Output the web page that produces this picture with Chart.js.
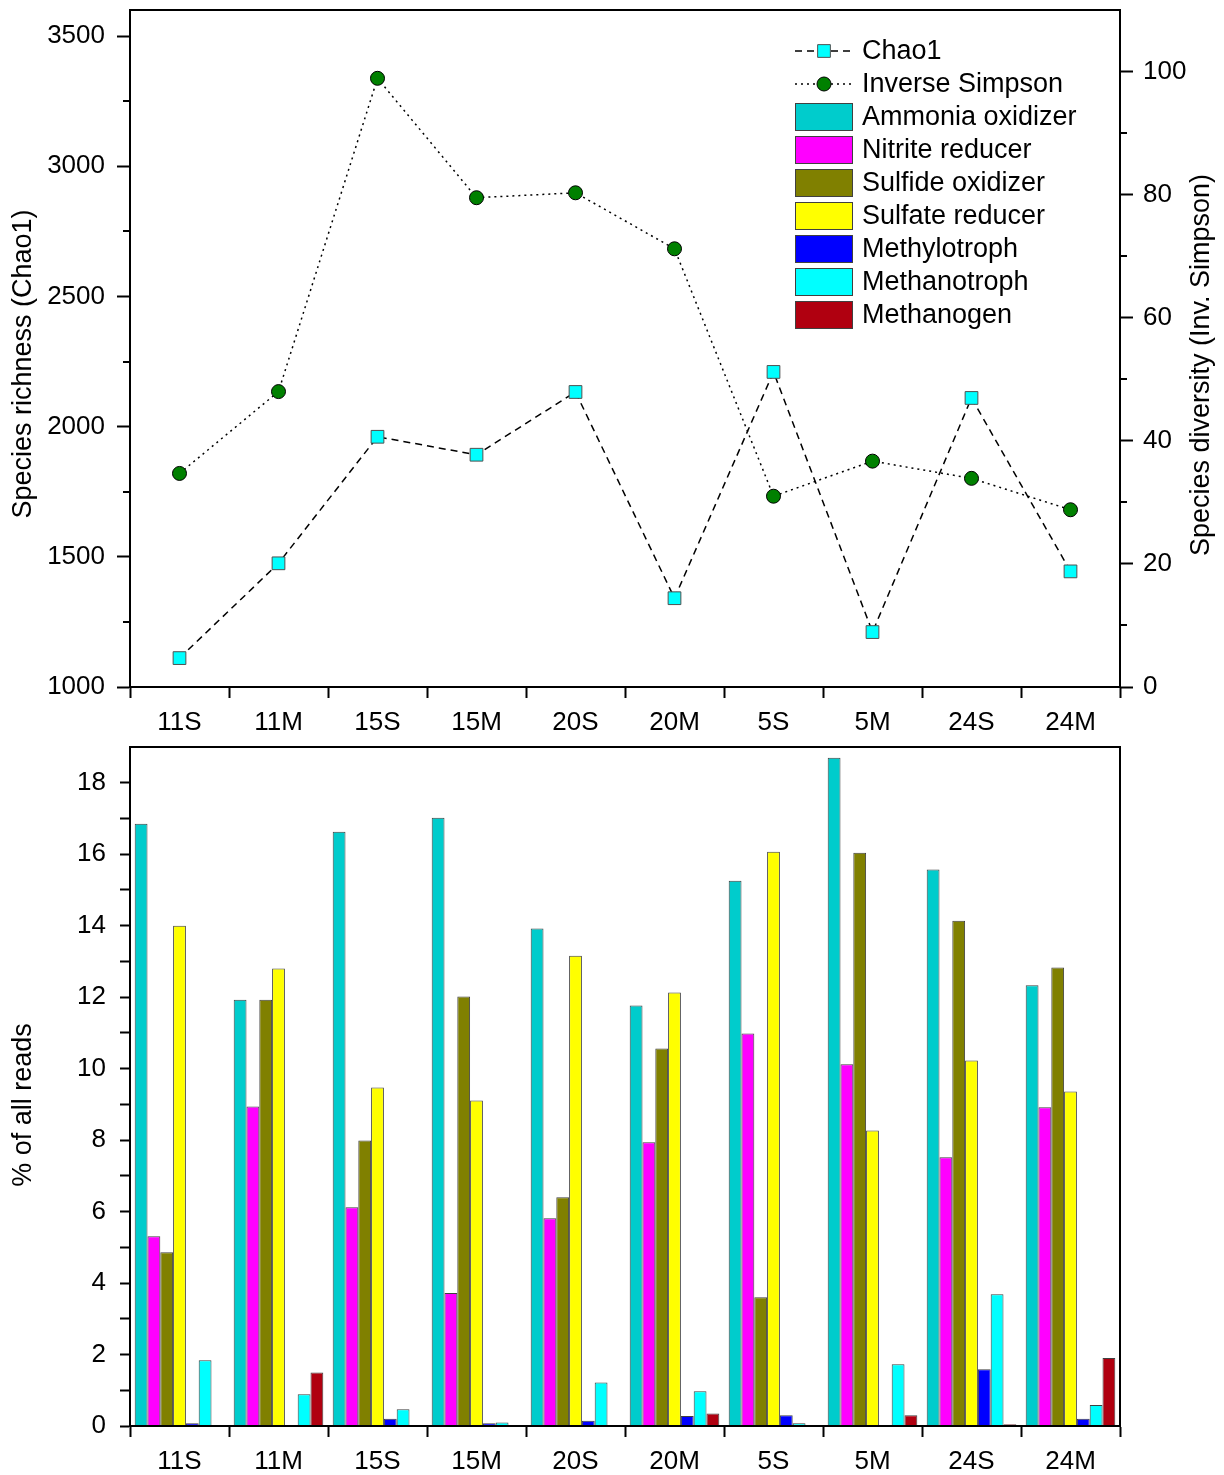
<!DOCTYPE html>
<html>
<head>
<meta charset="utf-8">
<script src="https://cdn.jsdelivr.net/npm/chart.js@4.4.1/dist/chart.umd.min.js"></script>
<style>
  body { margin: 0; background: #fff; }
  canvas { position: absolute; left: 0; }
</style>
</head>
<body>
<canvas id="topChart" width="1224" height="740" style="top:0"></canvas>
<canvas id="barChart" width="1224" height="735" style="top:740px"></canvas>
<script>
// sites along both x axes
var sites = ['11S', '11M', '15S', '15M', '20S', '20M', '5S', '5M', '24S', '24M'];

// top panel: richness (left axis) and diversity (right axis)
var chao1 = [1111, 1475, 1961, 1892, 2133, 1341, 2210, 1211, 2110, 1444];
var invSimpson = [34.7, 48.0, 98.9, 79.5, 80.3, 71.2, 31.0, 36.7, 33.9, 28.8];
var chaoTicks = [1000, 1500, 2000, 2500, 3000, 3500];
var simpsonTicks = [0, 20, 40, 60, 80, 100];

// bottom panel: % of all reads per functional group
var groupNames = ['Ammonia oxidizer', 'Nitrite reducer', 'Sulfide oxidizer', 'Sulfate reducer',
                  'Methylotroph', 'Methanotroph', 'Methanogen'];
var ammoniaOx = [16.85, 11.93, 16.63, 17.02, 13.92, 11.77, 15.26, 18.70, 15.57, 12.33];
var nitriteRed = [5.31, 8.94, 6.12, 3.72, 5.81, 7.94, 10.98, 10.12, 7.52, 8.92];
var sulfideOx = [4.86, 11.93, 7.99, 12.02, 6.40, 10.56, 3.60, 16.04, 14.14, 12.83];
var sulfateRed = [14.00, 12.80, 9.47, 9.11, 13.16, 12.13, 16.07, 8.27, 10.23, 9.36];
var methylotroph = [0.08, 0.03, 0.20, 0.08, 0.15, 0.28, 0.30, 0, 1.59, 0.20];
var methanotroph = [1.84, 0.89, 0.47, 0.10, 1.22, 0.97, 0.08, 1.73, 3.69, 0.59];
var methanogen = [0, 1.50, 0, 0.03, 0, 0.35, 0, 0.30, 0.05, 1.90];
var groupValues = [ammoniaOx, nitriteRed, sulfideOx, sulfateRed, methylotroph, methanotroph, methanogen];
var readTicks = [0, 1, 2, 3, 4, 5, 6, 7, 8, 9, 10, 11, 12, 13, 14, 15, 16, 17, 18];

var groupColors = ['#00CCCC', '#FF00FF', '#808000', '#FFFF00', '#0000FF', '#00FFFF', '#B00010'];
var FONT = '"Liberation Sans", Arial, sans-serif';

Chart.defaults.font.family = FONT;
Chart.defaults.color = '#000';

// box round the plot area
var framePlugin = {
	id: 'frame',
	afterDraw: function(chart) {
		var a = chart.chartArea, ctx = chart.ctx;
		ctx.save();
		ctx.strokeStyle = '#000';
		ctx.lineWidth = 2;
		ctx.strokeRect(a.left, a.top, a.right - a.left, a.bottom - a.top);
		ctx.restore();
	}
};

function drawTitle(ctx, text, x, y) {
	ctx.save();
	ctx.translate(x, y);
	ctx.rotate(-Math.PI / 2);
	ctx.font = '27px ' + FONT;
	ctx.fillStyle = '#000';
	ctx.textAlign = 'center';
	ctx.textBaseline = 'middle';
	ctx.fillText(text, 0, 0);
	ctx.restore();
}

function fixedTicks(list) {
	return function(s) { s.ticks = list.map(function(v) { return { value: v }; }); };
}
function noPad(w, h) {
	return function(s) {
		if (w) s.width = w;
		if (h) s.height = h;
		s.paddingTop = 0; s.paddingBottom = 0; s.paddingLeft = 0; s.paddingRight = 0;
	};
}

var tickStyle = { display: true, drawOnChartArea: false, drawTicks: true, tickLength: 13, tickWidth: 2, tickColor: '#000' };

// minor ticks + titles + legend for the top panel
var topExtras = {
	id: 'topExtras',
	afterDraw: function(chart) {
		var ctx = chart.ctx, a = chart.chartArea;
		var yL = chart.scales.y, yR = chart.scales.y1;
		ctx.save();
		ctx.strokeStyle = '#000';
		ctx.lineWidth = 2;
		ctx.beginPath();
		for (var v = 1250; v < yL.max; v += 500) {
			var py = Math.round(yL.getPixelForValue(v));
			ctx.moveTo(a.left - 7, py); ctx.lineTo(a.left, py);
		}
		for (var w = 10; w < yR.max; w += 20) {
			var qy = Math.round(yR.getPixelForValue(w));
			ctx.moveTo(a.right, qy); ctx.lineTo(a.right + 7, qy);
		}
		ctx.stroke();
		ctx.restore();

		drawTitle(ctx, 'Species richness (Chao1)', 24, 364);
		drawTitle(ctx, 'Species diversity (Inv. Simpson)', 1202, 365);

		// legend
		var lx = 795, lw = 58, tx = 862, y0 = 51, dy = 33;
		ctx.save();
		ctx.font = '27px ' + FONT;
		ctx.textBaseline = 'middle';
		chart.data.datasets.forEach(function(ds, i) {
			var ry = y0 + i * dy;
			ctx.save();
			ctx.strokeStyle = '#000';
			ctx.lineWidth = 1.5;
			ctx.setLineDash(ds.borderDash);
			ctx.beginPath();
			ctx.moveTo(lx, ry); ctx.lineTo(lx + lw, ry);
			ctx.stroke();
			ctx.restore();
			ctx.fillStyle = ds.pointBackgroundColor;
			ctx.strokeStyle = ds.pointBorderColor;
			ctx.lineWidth = 1;
			ctx.beginPath();
			if (ds.pointStyle === 'rect') {
				var s = Math.SQRT1_2 * ds.pointRadius;
				ctx.rect(lx + lw / 2 - s, ry - s, 2 * s, 2 * s);
			} else {
				ctx.arc(lx + lw / 2, ry, ds.pointRadius, 0, Math.PI * 2);
			}
			ctx.fill(); ctx.stroke();
			ctx.fillStyle = '#000';
			ctx.fillText(ds.label, tx, ry + 1);
		});
		var n = chart.data.datasets.length;
		groupNames.forEach(function(name, j) {
			var ry = y0 + (n + j) * dy;
			ctx.fillStyle = groupColors[j];
			ctx.fillRect(lx, ry - 14, lw, 28);
			ctx.strokeStyle = '#404040';
			ctx.lineWidth = 1;
			ctx.strokeRect(lx + 0.5, ry - 13.5, lw - 1, 27);
			ctx.fillStyle = '#000';
			ctx.fillText(name, tx, ry + 1);
		});
		ctx.restore();
	}
};

new Chart(document.getElementById('topChart').getContext('2d'), {
	type: 'line',
	data: {
		labels: sites,
		datasets: [{
			label: 'Chao1',
			data: chao1,
			yAxisID: 'y',
			borderColor: '#000',
			borderWidth: 1.5,
			borderDash: [7, 5],
			pointStyle: 'rect',
			pointRadius: 9,
			pointBackgroundColor: '#00FFFF',
			pointBorderColor: '#505050',
			pointBorderWidth: 1,
			fill: false,
			tension: 0
		}, {
			label: 'Inverse Simpson',
			data: invSimpson,
			yAxisID: 'y1',
			borderColor: '#000',
			borderWidth: 1.5,
			borderDash: [2, 4],
			pointStyle: 'circle',
			pointRadius: 7,
			pointBackgroundColor: '#008000',
			pointBorderColor: '#000',
			pointBorderWidth: 1,
			fill: false,
			tension: 0
		}]
	},
	options: {
		responsive: false,
		animation: false,
		layout: { padding: { top: 8, left: 0, right: 0, bottom: 0 } },
		plugins: { legend: { display: false }, tooltip: { enabled: false } },
		scales: {
			x: {
				type: 'category',
				offset: true,
				grid: Object.assign({}, tickStyle, { offset: true, tickLength: 11 }),
				border: { display: true, color: '#000', width: 2 },
				ticks: { font: { size: 26 }, color: '#000', padding: 9, maxRotation: 0 },
				afterFit: noPad(0, 53)
			},
			y: {
				position: 'left',
				min: 1000, max: 3600,
				grid: tickStyle,
				border: { display: true, color: '#000', width: 2 },
				ticks: { font: { size: 26 }, color: '#000', padding: 12,
					callback: function(v) { return String(v); } },
				afterBuildTicks: fixedTicks(chaoTicks),
				afterFit: noPad(130, 0)
			},
			y1: {
				position: 'right',
				min: 0, max: 110,
				grid: tickStyle,
				border: { display: true, color: '#000', width: 2 },
				ticks: { font: { size: 26 }, color: '#000', padding: 10,
					callback: function(v) { return String(v); } },
				afterBuildTicks: fixedTicks(simpsonTicks),
				afterFit: noPad(104, 0)
			}
		}
	},
	plugins: [framePlugin, topExtras]
});

/*=========================================================================================*/
var barExtras = {
	id: 'barExtras',
	afterDraw: function(chart) {
		drawTitle(chart.ctx, '% of all reads', 24, 365);
	}
};

var barDatasets = groupNames.map(function(name, i) {
	return {
		label: name,
		data: groupValues[i],
		backgroundColor: groupColors[i],
		borderColor: '#404040',
		borderWidth: 1,
		barPercentage: 1,
		categoryPercentage: 0.905
	};
});

new Chart(document.getElementById('barChart').getContext('2d'), {
	type: 'bar',
	data: { labels: sites, datasets: barDatasets },
	options: {
		responsive: false,
		animation: false,
		layout: { padding: { top: 7, left: 0, right: 104, bottom: 0 } },
		plugins: { legend: { display: false }, tooltip: { enabled: false } },
		scales: {
			x: {
				grid: Object.assign({}, tickStyle, { offset: true, tickLength: 11 }),
				border: { display: true, color: '#000', width: 2 },
				ticks: { font: { size: 26 }, color: '#000', padding: 9, maxRotation: 0 },
				afterFit: noPad(0, 49)
			},
			y: {
				min: 0, max: 19,
				grid: Object.assign({}, tickStyle, { tickLength: 10 }),
				border: { display: true, color: '#000', width: 2 },
				ticks: {
					font: { size: 26 }, color: '#000', padding: 14,
					callback: function(v) { return v % 2 === 0 ? String(v) : ''; }
				},
				afterBuildTicks: fixedTicks(readTicks),
				afterFit: noPad(130, 0)
			}
		}
	},
	plugins: [framePlugin, barExtras]
});
</script>
</body>
</html>
